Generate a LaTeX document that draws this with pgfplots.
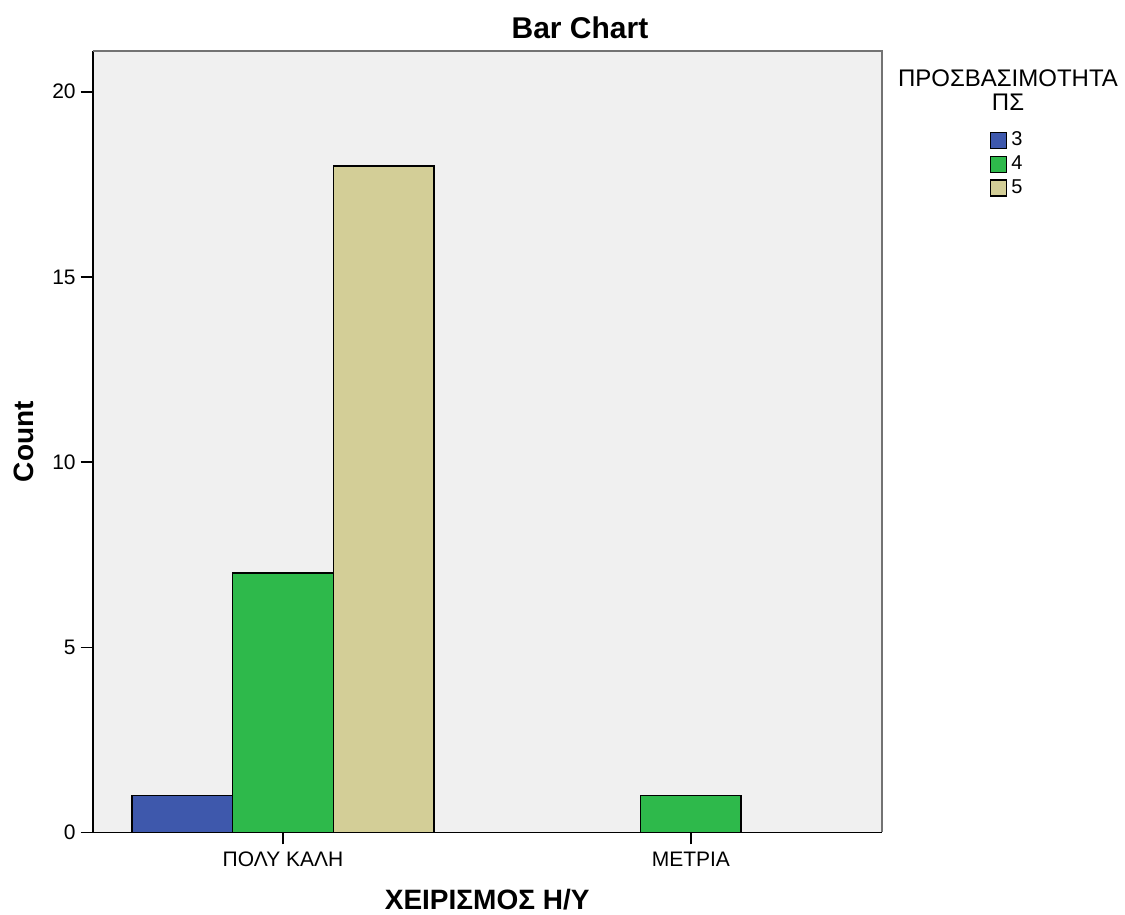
\documentclass[border=0pt]{standalone}
\usepackage{fontspec}
\setmainfont{Liberation Sans}
\usepackage{pgfplots}
\pgfplotsset{compat=1.18}
\definecolor{cBlue}{HTML}{3E58AC}
\definecolor{cGreen}{HTML}{2EB94B}
\definecolor{cTan}{HTML}{D3CE97}
\definecolor{cBg}{HTML}{F0F0F0}
\begin{document}
\begin{tikzpicture}
\path[use as bounding box] (0,0) rectangle (562.5pt,457.5pt);
\begin{axis}[
  at={(46.35pt,41.25pt)}, anchor=south west,
  scale only axis, width=394.5pt, height=390.75pt,
  xmin=-0.4667, xmax=1.468, ymin=0, ymax=21.1,
  axis background/.style={fill=cBg},
  axis x line*=bottom, axis y line*=left,
  axis line style={black, line width=0.8pt},
  ybar=0pt, bar width=50.4pt,
  xtick={0,1}, xticklabels={ΠΟΛΥ ΚΑΛΗ, ΜΕΤΡΙΑ},
  ytick={0,5,10,15,20},
  tick align=outside, major tick length=6pt,
  tick style={black, line width=0.8pt},
  /pgf/number format/assume math mode=true,
  ticklabel style={font=\fontsize{10.5pt}{12pt}\selectfont},
  yticklabel style={xshift=1pt},
  xlabel={\bfseries ΧΕΙΡΙΣΜΟΣ Η/Υ},
  xlabel style={font=\fontsize{14pt}{16pt}\selectfont, at={(axis description cs:0.5,0)}, anchor=base, yshift=-38.5pt},
  ylabel={\bfseries Count},
  ylabel style={font=\fontsize{14pt}{16pt}\selectfont, at={(axis description cs:0,0.5)}, anchor=base, yshift=29.8pt},
  legend style={at={(axis description cs:1.1365,0.902)}, anchor=north west, draw=none, fill=none,
    font=\fontsize{10pt}{12pt}\selectfont, inner sep=0pt, row sep=-0.5pt,
    legend cell align=left},
  legend image code/.code={\draw[#1, line width=0.8pt] (0pt,-4pt) rectangle (8pt,4pt);},
  after end axis/.code={
    \draw[black!55, line width=1pt] (rel axis cs:0,1) -- (rel axis cs:1,1) -- (rel axis cs:1,0);
  },
]
\addplot[fill=cBlue, draw=black, line width=0.8pt] coordinates {(0,1)};
\addplot[fill=cGreen, draw=black, line width=0.8pt] coordinates {(0,7) (1,1)};
\addplot[fill=cTan, draw=black, line width=0.8pt] coordinates {(0,18)};
\legend{3,4,5}
\end{axis}
\node[font=\bfseries\fontsize{15pt}{18pt}\selectfont] at (290pt,443.5pt) {Bar Chart};
\node[font=\fontsize{12pt}{14pt}\selectfont, align=center, anchor=north] at (504pt,426pt) {ΠΡΟΣΒΑΣΙΜΟΤΗΤΑ\\[-2pt]ΠΣ};
\end{tikzpicture}
\end{document}
